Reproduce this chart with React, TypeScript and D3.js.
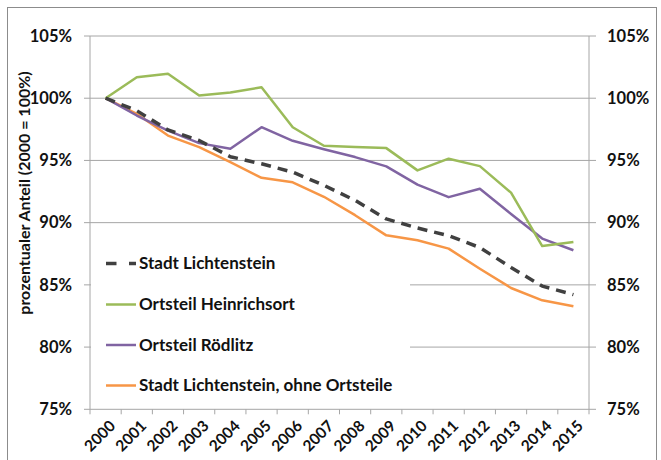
import React from "react";
import * as d3 from "d3";

const years = ["2000","2001","2002","2003","2004","2005","2006","2007","2008","2009","2010","2011","2012","2013","2014","2015"];
const stadt = [100, 99.0, 97.45, 96.6, 95.3, 94.73, 94.06, 93.0, 91.79, 90.3, 89.57, 88.95, 88.0, 86.4, 84.9, 84.22];
const heinrichsort = [100, 101.69, 101.96, 100.22, 100.46, 100.88, 97.67, 96.18, 96.07, 95.99, 94.2, 95.14, 94.54, 92.41, 88.12, 88.44];
const roedlitz = [100, 98.61, 97.4, 96.39, 95.94, 97.67, 96.58, 95.9, 95.27, 94.52, 93.06, 92.05, 92.73, 90.7, 88.72, 87.78];
const ohne = [100, 98.75, 97.0, 96.07, 94.86, 93.6, 93.24, 92.08, 90.6, 88.98, 88.58, 87.91, 86.3, 84.75, 83.76, 83.28];
const yTicks = [75, 80, 85, 90, 95, 100, 105];

const seriesNames = ["Stadt Lichtenstein", "Ortsteil Heinrichsort", "Ortsteil Rödlitz", "Stadt Lichtenstein, ohne Ortsteile"];

export default function App() {
  const left = 90, right = 589, top = 36, bottom = 409.3;
  const x = d3.scaleBand<string>().domain(years).range([left, right]).padding(0);
  const y = d3.scaleLinear().domain([75, 105]).range([bottom, top]);
  const cx = (i: number) => (x(years[i]) as number) + x.bandwidth() / 2;
  const line = d3.line<number>().x((_, i) => cx(i)).y((d) => y(d));
  const font = "Lato, 'Open Sans', sans-serif";
  const gridColor = "#a6a6a6";
  const txt = "#111";

  const series = [
    { name: seriesNames[0], data: stadt, color: "#404040", width: 3.5, dash: "10,7" },
    { name: seriesNames[1], data: heinrichsort, color: "#9bbb59", width: 2.5, dash: undefined },
    { name: seriesNames[2], data: roedlitz, color: "#8064a2", width: 2.5, dash: undefined },
    { name: seriesNames[3], data: ohne, color: "#f79646", width: 2.5, dash: undefined },
  ];
  const drawOrder = [3, 2, 1, 0];
  const legendY = [263.5, 304.5, 345, 385.5];

  return (
    <svg width={661} height={460} style={{ position: "absolute", left: 0, top: 0, background: "#fff" }} fontFamily={font}>
      <rect x={0} y={0} width={661} height={460} fill="#fff" />
      <rect x={7.5} y={7.5} width={649} height={480} fill="#fff" stroke="#8c8c8c" strokeWidth={1} />
      {yTicks.filter((t) => t > 75).map((t) => (
        <line key={"g" + t} x1={left} x2={right} y1={y(t)} y2={y(t)} stroke={gridColor} strokeWidth={1} />
      ))}
      {yTicks.map((t) => (
        <g key={"t" + t}>
          <line x1={left - 6} x2={left} y1={y(t)} y2={y(t)} stroke={gridColor} strokeWidth={1} />
          <line x1={right} x2={right + 7} y1={y(t)} y2={y(t)} stroke={gridColor} strokeWidth={1} />
          <text x={72} y={y(t)} dy="0.35em" textAnchor="end" fontSize={16.5} fontWeight={700} fill={txt}>{t}%</text>
          <text x={607} y={y(t)} dy="0.35em" textAnchor="start" fontSize={16.5} fontWeight={700} fill={txt}>{t}%</text>
        </g>
      ))}
      <line x1={left} x2={left} y1={top} y2={bottom} stroke={gridColor} strokeWidth={1} />
      <line x1={right} x2={right} y1={top} y2={bottom} stroke={gridColor} strokeWidth={1} />
      <line x1={left} x2={right} y1={bottom} y2={bottom} stroke={gridColor} strokeWidth={1} />
      {years.map((yr, i) => (
        <line key={"xt" + i} x1={x(yr) as number} x2={x(yr) as number} y1={bottom} y2={bottom + 5} stroke={gridColor} strokeWidth={1} />
      ))}
      <line x1={right} x2={right} y1={bottom} y2={bottom + 5} stroke={gridColor} strokeWidth={1} />
      {years.map((yr, i) => (
        <text key={"xl" + i} transform={`translate(${cx(i) + 3},${bottom + 10}) rotate(-45)`} textAnchor="end" dy="0.7em" fontSize={15.5} fontWeight={700} fill={txt}>{yr}</text>
      ))}
      <text transform={`translate(24,193) rotate(-90)`} textAnchor="middle" dy="0.35em" fontSize={16} fontWeight={700} fill={txt}>prozentualer Anteil (2000 = 100%)</text>
      <rect x={91} y={241} width={319} height={160} fill="#fff" />
      {drawOrder.map((k) => {
        const s = series[k];
        return (
          <path key={"s" + k} d={line(s.data) || ""} fill="none" stroke={s.color} strokeWidth={s.width} strokeDasharray={s.dash} strokeLinejoin="round" />
        );
      })}
      {series.map((s, k) => (
        <g key={"lg" + k}>
          {s.dash ? (
            <>
              <line x1={106} x2={116.5} y1={legendY[k]} y2={legendY[k]} stroke={s.color} strokeWidth={s.width} />
              <line x1={129} x2={136} y1={legendY[k]} y2={legendY[k]} stroke={s.color} strokeWidth={s.width} />
            </>
          ) : (
            <line x1={106} x2={136} y1={legendY[k]} y2={legendY[k]} stroke={s.color} strokeWidth={s.width} />
          )}
          <text x={139} y={legendY[k]} dy="0.35em" fontSize={17} fontWeight={700} fill={txt}>{s.name}</text>
        </g>
      ))}
    </svg>
  );
}
